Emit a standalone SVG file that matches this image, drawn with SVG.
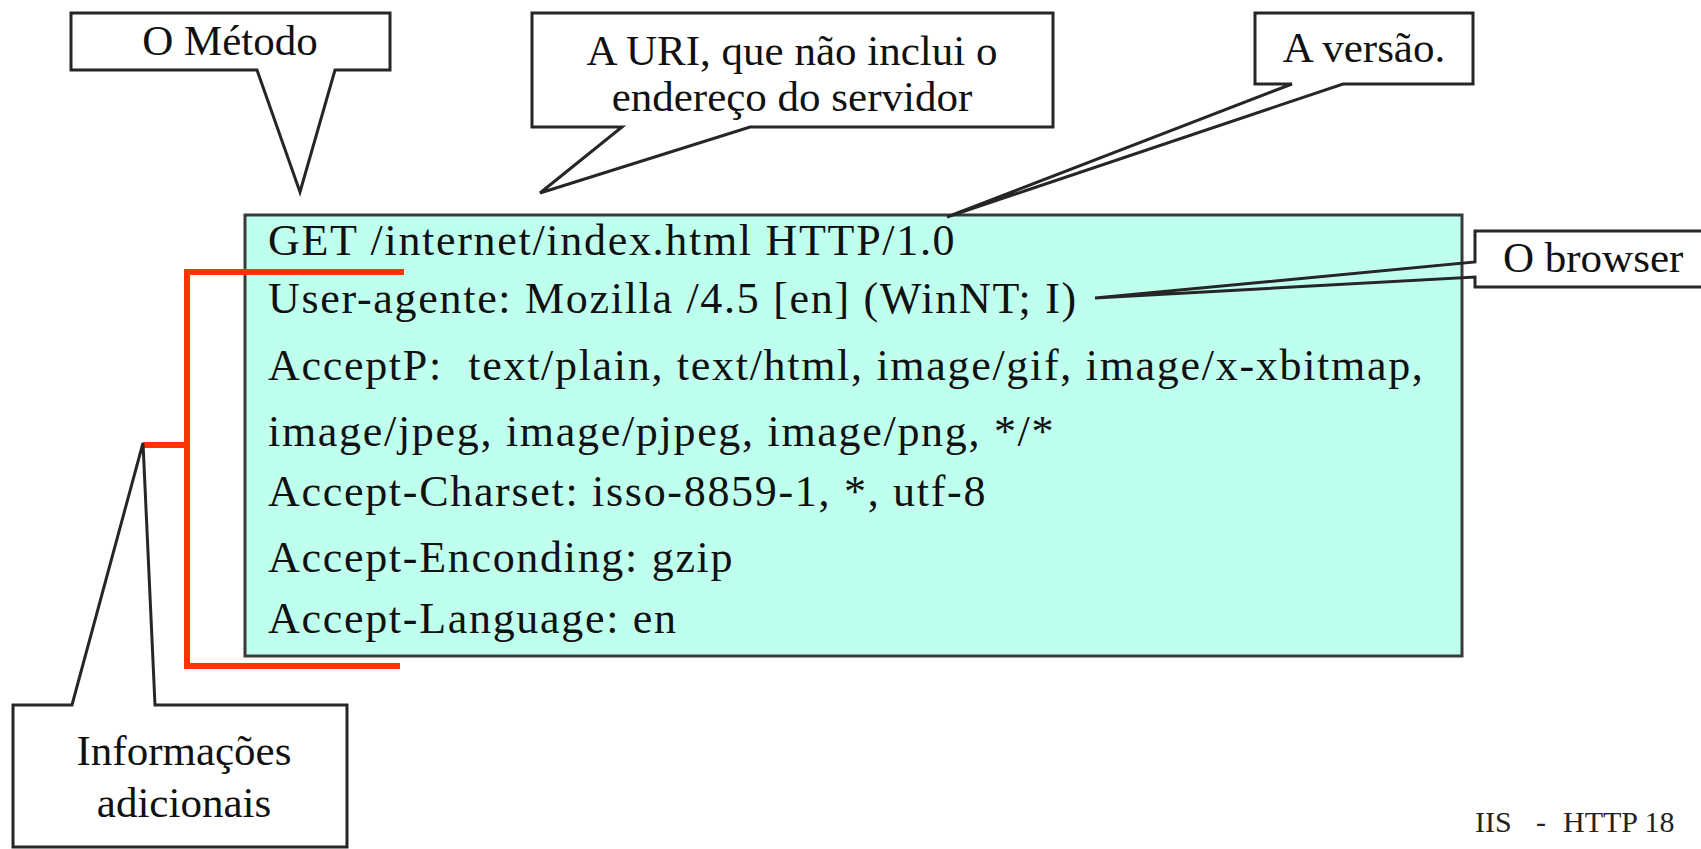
<svg xmlns="http://www.w3.org/2000/svg" width="1701" height="849" viewBox="0 0 1701 849">
  <style>
    .bg { fill: #ffffff; }
    .callout { fill: #ffffff; stroke: #262626; stroke-width: 3; stroke-linejoin: miter; }
    .outline { fill: none; stroke: #262626; stroke-width: 3; stroke-linejoin: miter; }
    .panel { fill: #BFFFEE; stroke: #3a3a3a; stroke-width: 3; }
    .lbl { font-family: "Liberation Serif", "Times New Roman", serif; font-size: 43px; fill: #111; }
    .mid { text-anchor: middle; }
    .code { font-family: "Liberation Serif", "Times New Roman", serif; font-size: 44px; letter-spacing: 1.7px; fill: #111; white-space: pre; }
    .foot { font-family: "Liberation Serif", "Times New Roman", serif; font-size: 30px; fill: #222; }
    .bracket { fill: none; stroke: #FF3300; stroke-width: 6; }
  </style>
  <rect class="bg" x="0" y="0" width="1701" height="849"/>

  <g id="request">
    <rect class="panel" x="245" y="215" width="1217" height="441"/>
    <text class="code" x="268" y="255">GET /internet/index.html HTTP/1.0</text>
    <text class="code" x="268" y="313">User-agente: Mozilla /4.5 [en] (WinNT; I)</text>
    <text class="code" x="268" y="380">AcceptP:  text/plain, text/html, image/gif, image/x-xbitmap,</text>
    <text class="code" x="268" y="446">image/jpeg, image/pjpeg, image/png, */*</text>
    <text class="code" x="268" y="506">Accept-Charset: isso-8859-1, *, utf-8</text>
    <text class="code" x="268" y="572">Accept-Enconding: gzip</text>
    <text class="code" x="268" y="633">Accept-Language: en</text>
  </g>

  <g id="connectors">
    <path class="bracket" d="M404,272 H187 V666 H400"/>
    <path class="bracket" d="M187,445 H143"/>
  </g>

  <g id="metodo">
    <polygon class="callout" points="71,13 390,13 390,70 335,70 300,192 257,70 71,70"/>
    <text class="lbl mid" x="230" y="55">O Método</text>
  </g>

  <g id="uri">
    <polygon class="callout" points="532,13 1053,13 1053,127 750,127 540,193 622,127 532,127"/>
    <text class="lbl mid" x="792" y="65">A URI, que não inclui o</text>
    <text class="lbl mid" x="792" y="111">endereço do servidor</text>
  </g>

  <g id="versao">
    <rect x="1255" y="13" width="218" height="71" fill="#ffffff"/>
    <polygon class="outline" points="1255,13 1473,13 1473,84 1343,84 947,217 1292,84 1255,84"/>
    <text class="lbl mid" x="1364" y="62">A versão.</text>
  </g>

  <g id="browser">
    <rect x="1475" y="231" width="240" height="56" fill="#ffffff"/>
    <polygon class="outline" points="1475,231 1710,231 1710,287 1475,287 1475,277 1095,298 1475,262"/>
    <text class="lbl" x="1503" y="272">O browser</text>
  </g>

  <g id="informacoes">
    <polygon class="callout" points="13,705 72,705 143,443 155,705 347,705 347,847 13,847"/>
    <text class="lbl mid" x="184" y="765">Informações</text>
    <text class="lbl mid" x="184" y="817">adicionais</text>
  </g>

  <g id="footer">
    <text class="foot" y="832"><tspan x="1475">IIS</tspan> <tspan x="1536">-</tspan> <tspan x="1563">HTTP 18</tspan></text>
  </g>
</svg>
